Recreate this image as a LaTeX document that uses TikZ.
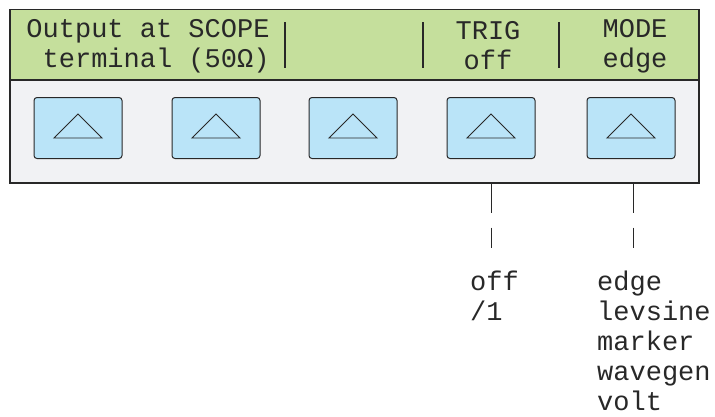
\documentclass[tikz,border=0pt]{standalone}
\usepackage{fontspec}
\newfontfamily\lcdfont{Liberation Mono}
\usetikzlibrary{positioning,calc}
\definecolor{lcdgreen}{RGB}{197,223,156}
\definecolor{panelgray}{RGB}{241,242,244}
\definecolor{keyblue}{RGB}{186,228,248}
\definecolor{ink}{RGB}{40,40,40}

\begin{document}
\begin{tikzpicture}[
  x=1bp, y=-1bp,
  frame/.style   = {draw=ink, line width=1.2bp},
  lcd/.style     = {frame, fill=lcdgreen, minimum width=689bp, minimum height=71bp, inner sep=0pt},
  panel/.style   = {frame, fill=panelgray, minimum width=689bp, minimum height=103bp, inner sep=0pt},
  softkey/.style = {draw=ink, line width=1bp, fill=keyblue, rounded corners=3bp,
                    minimum width=88bp, minimum height=61bp, inner sep=0pt},
  lcdtext/.style = {font=\lcdfont\fontsize{27bp}{30bp}\selectfont, text=ink, inner sep=0pt},
  opttext/.style = {font=\lcdfont\fontsize{27bp}{30bp}\selectfont, text=ink, inner sep=0pt,
                    align=left, anchor=north west},
  divider/.style = {ink, line width=2.6bp},
  lead/.style    = {ink, line width=0.9bp, dash pattern=on 29bp off 15bp},
]
\useasboundingbox (0,0) rectangle (715,416);

% ---- display and key panel ----
\node[lcd]   (lcd)   at (354.5,45)  {};
\node[panel] (panel) at (354.5,131.5) {};

% ---- softkeys ----
\node[softkey] (k1) at (78,128)  {};
\node[softkey] (k2) at (216,128) {};
\node[softkey] (k3) at (353,128) {};
\node[softkey] (k4) at (491,128) {};
\node[softkey] (k5) at (631,128) {};
\foreach \k in {k1,k2,k3,k4,k5}
  \draw[ink, line width=0.9bp, line join=miter]
    ([shift={(-24,10)}]\k.center) -- ([shift={(0,-14)}]\k.center)
    -- ([shift={(24,10)}]\k.center) -- cycle;

% ---- display labels ----
\node[lcdtext, align=left] (scope) at (148,46) {Output at SCOPE\\\ terminal (50Ω)};
\node[lcdtext, align=center] (trig) at (488,46) {TRIG\\off};
\node[lcdtext, align=center] (mode) at (635,46) {MODE\\edge};
\coordinate (d1) at (285,22);
\coordinate (d2) at (423,22);
\coordinate (d3) at (559,22);
\foreach \d in {d1,d2,d3}
  \draw[divider] (\d) -- ++(0,46);

% ---- option lists ----
\node[opttext] (trigopts) at (470,271) {off\\/1};
\node[opttext] (modeopts) at (597,271) {edge\\levsine\\marker\\wavegen\\volt};
\coordinate (t4) at (491,248);
\coordinate (t5) at (633,248);
\draw[lead] (panel.south -| k4) -- (t4);
\draw[lead] (panel.south -| t5) -- (t5);

\end{tikzpicture}
\end{document}
